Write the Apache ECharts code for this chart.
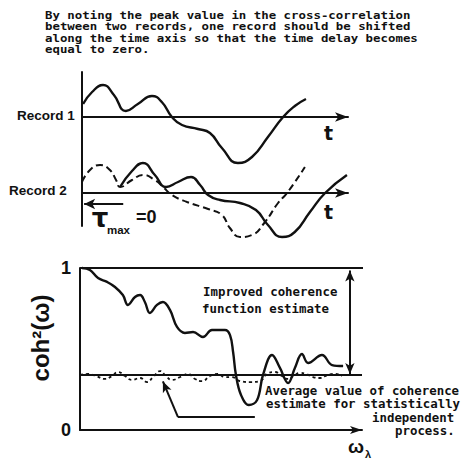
<!DOCTYPE html>
<html>
<head>
<meta charset="utf-8">
<script src="https://cdn.jsdelivr.net/npm/echarts@6/dist/echarts.min.js"></script>
<style>html,body{margin:0;padding:0;background:#fff}#c{width:468px;height:462px}</style>
</head>
<body>
<div id="c"></div>
<script>
// Record 1 (time t, amplitude)
const rec1T = [0.04,0.38,0.79,1.2,1.65,2.1,2.63,3.0,3.38,3.76,4.36,4.81,5.26,5.86,6.39,6.99,7.56,8.0,8.42];
const rec1A = [0.65,1.25,1.6,1.1,0.3,0.65,1.05,0.75,0,-0.4,-0.6,-0.8,-1.55,-2.3,-2.0,-1.0,0,0.55,0.9];
// Record 2 shifted (solid)
const rec2T = [1.43,1.88,2.29,2.74,3.16,3.61,4.1,4.44,4.74,5.19,5.94,6.54,6.99,7.52,8.0,8.57,9.14,9.96];
const rec2A = [0.3,1.1,1.5,0.9,0.3,0.55,0.8,0.4,-0.1,-0.35,-0.5,-0.85,-1.6,-2.2,-1.95,-0.95,0,0.9];
// Record 2 aligned (dashed)
const rec2dT = [0,0.3,0.68,1.05,1.28,1.43,1.88,2.29,2.74,3.05,3.38,3.95,4.74,5.26,5.56,5.94,6.39,6.88,7.37,7.71,8.38];
const rec2dA = [0.55,1.15,1.4,1.15,0.65,0.3,0.65,0.9,0.65,0.3,-0.1,-0.45,-0.8,-1.1,-1.75,-2.2,-2.1,-1.45,-0.5,0,1.3];
// Improved coherence estimate
const cohW = [0.07,0.35,0.64,0.96,1.24,1.52,1.70,1.95,2.13,2.30,2.48,2.73,2.94,3.19,3.44,3.72,4.01,4.36,4.68,5.14,5.32,5.43,5.53,5.71,5.99,6.28,6.49,6.81,7.09,7.38,7.62,7.87,8.09,8.58,8.94,9.33];
const cohV = [1.0,0.988,0.938,0.914,0.883,0.833,0.772,0.821,0.833,0.790,0.722,0.772,0.790,0.741,0.636,0.599,0.605,0.574,0.617,0.617,0.586,0.48,0.34,0.216,0.154,0.185,0.34,0.463,0.383,0.29,0.383,0.469,0.414,0.463,0.401,0.395];
// Coherence estimate for statistically independent process
const indW = [0,0.28,0.57,0.89,1.13,1.35,1.60,1.84,2.13,2.38,2.59,2.84,3.05,3.26,3.55,3.83,4.08,4.33,4.61,4.89,5.14,5.39,5.67,6.03,6.38,6.67,6.91,7.16,7.38,7.62,7.80,8.01,8.26,8.51,8.79,9.04,9.29];
const indV = [0.34,0.346,0.333,0.315,0.333,0.358,0.333,0.309,0.321,0.296,0.327,0.364,0.333,0.309,0.327,0.346,0.315,0.302,0.333,0.346,0.327,0.327,0.302,0.296,0.302,0.352,0.358,0.333,0.315,0.340,0.352,0.346,0.327,0.321,0.340,0.346,0.333];
const avgLevel = 0.34;
const cohTicks = [0, 1];

const zip = (a, b) => a.map((v, i) => [v, b[i]]);
const K = '#111';
const mono = 'DejaVu Sans Mono';

const chart = echarts.init(document.getElementById('c'), null, {renderer: 'svg'});
const hiddenAxis = {axisTick:{show:false}, axisLabel:{show:false}, splitLine:{show:false}};
const lineSer = (xi, data, extra) => Object.assign({
  type:'line', xAxisIndex:xi, yAxisIndex:xi, data, smooth:0.5, showSymbol:false, clip:false,
  silent:true, lineStyle:{color:K, width:2.4}
}, extra || {});

const txt = (x, y, text, font, opt) => ({type:'text', x, y, silent:true, ...(opt||{}),
  style:Object.assign({text, font, fill:K, textAlign:'left', textVerticalAlign:'middle'}, (opt && opt.st) || {})});
const monoBlock = (x, y, lines, size, lh, opt) => txt(x, y, lines.join('\n'), 'bold ' + size + 'px ' + mono,
  Object.assign({}, opt || {}, {st:{lineHeight:lh}}));
const note = (x, y, text) => txt(x, y, text, 'bold 11.6px ' + mono, {scaleX:1.07, st:{lineHeight:11}});

chart.setOption({
  animation:false,
  grid:[
    {left:82, top:72, width:266, height:154},
    {left:82, top:143, width:266, height:100},
    {left:80, top:268, width:282, height:162}
  ],
  xAxis:[
    {gridIndex:0, type:'value', min:0, max:10, ...hiddenAxis,
      axisLine:{onZero:true, symbol:['none','arrow'], symbolSize:[7,13], lineStyle:{color:K, width:2}}},
    {gridIndex:1, type:'value', min:0, max:10, ...hiddenAxis,
      axisLine:{onZero:true, symbol:['none','arrow'], symbolSize:[7,13], lineStyle:{color:K, width:2}}},
    {gridIndex:2, type:'value', min:0, max:10, ...hiddenAxis,
      axisLine:{onZero:true, symbol:['none','arrow'], symbolSize:[6,12], lineStyle:{color:K, width:2}}}
  ],
  yAxis:[
    {gridIndex:0, type:'value', min:-5.45, max:2.25, ...hiddenAxis,
      axisLine:{show:true, onZero:false, lineStyle:{color:K, width:2}}},
    {gridIndex:1, type:'value', min:-2.5, max:2.5, ...hiddenAxis, axisLine:{show:false}},
    {gridIndex:2, type:'value', min:cohTicks[0], max:cohTicks[1], interval:1,
      axisTick:{show:false}, splitLine:{show:false},
      axisLine:{show:true, onZero:false, lineStyle:{color:K, width:2}},
      axisLabel:{show:true, margin:9, color:K, fontFamily:'Liberation Sans', fontWeight:'bold', fontSize:18}}
  ],
  series:[
    lineSer(0, zip(rec1T, rec1A)),
    lineSer(1, zip(rec2T, rec2A)),
    lineSer(1, zip(rec2dT, rec2dA), {lineStyle:{color:K, width:2, type:[7,4]},
      markLine:{silent:true, symbolSize:[8,11], label:{show:false},
        lineStyle:{color:K, width:2, type:'solid'},
        data:[[{coord:[1.55,-0.55], symbol:'none'}, {coord:[0.08,-0.55], symbol:'arrow'}]]}}),
    lineSer(2, zip(cohW, cohV), {smooth:0.4}),
    lineSer(2, zip(indW, indV), {lineStyle:{color:K, width:1.8, type:[3,3]}}),
    lineSer(2, [[0,1],[10.28,1]], {smooth:false, lineStyle:{color:K, width:2}}),
    lineSer(2, [[0,avgLevel],[10,avgLevel]], {smooth:false, lineStyle:{color:K, width:2},
      markLine:{silent:true, symbolSize:[7,11], label:{show:false},
        lineStyle:{color:K, width:2, type:'solid'},
        data:[
          [{coord:[9.57,0.985], symbol:'arrow'}, {coord:[9.57,avgLevel+0.005], symbol:'arrow'}],
          [{coord:[6.2,0.08], symbol:'none'}, {coord:[3.475,0.08], symbol:'none'}],
          [{coord:[3.475,0.08], symbol:'none'}, {coord:[2.94,0.30], symbol:'arrow'}]
        ]}})
  ],
  graphic:[
    monoBlock(45, 32.9, [
      'By noting the peak value in the cross-correlation',
      'between two records, one record should be shifted',
      'along the time axis so that the time delay becomes',
      'equal to zero.'], 10, 11.2, {scaleX:1.24}),
    txt(17, 115, 'Record 1', 'bold 13.5px Liberation Sans'),
    txt(9, 190.5, 'Record 2', 'bold 13.5px Liberation Sans'),
    txt(328.5, 133, 't', 'bold 19px DejaVu Sans', {st:{textAlign:'center'}}),
    txt(328.5, 212, 't', 'bold 19px DejaVu Sans', {st:{textAlign:'center'}}),
    txt(100, 218, 'τ', 'bold 26px DejaVu Sans', {st:{textAlign:'center'}}),
    txt(107, 230, 'max', 'bold 11.5px Liberation Sans'),
    txt(136, 216.5, '=0', 'bold 18px Liberation Sans'),
    note(203, 292, 'Improved coherence'),
    note(202, 309, 'function estimate'),
    note(265, 391, 'Average value of coherence'),
    note(266, 404.5, 'estimate for statistically'),
    note(372, 418, 'independent'),
    note(395, 431.5, 'process.'),
    txt(40, 338, 'coh²(ω)', 'bold 24px Liberation Sans', {rotation:Math.PI/2, st:{textAlign:'center'}}),
    txt(356, 446, 'ω', 'bold 19px Liberation Sans', {st:{textAlign:'center'}}),
    txt(368, 454, 'λ', 'bold 11px Liberation Sans', {st:{textAlign:'center', lineHeight:12}})
  ]
});
</script>
</body>
</html>
